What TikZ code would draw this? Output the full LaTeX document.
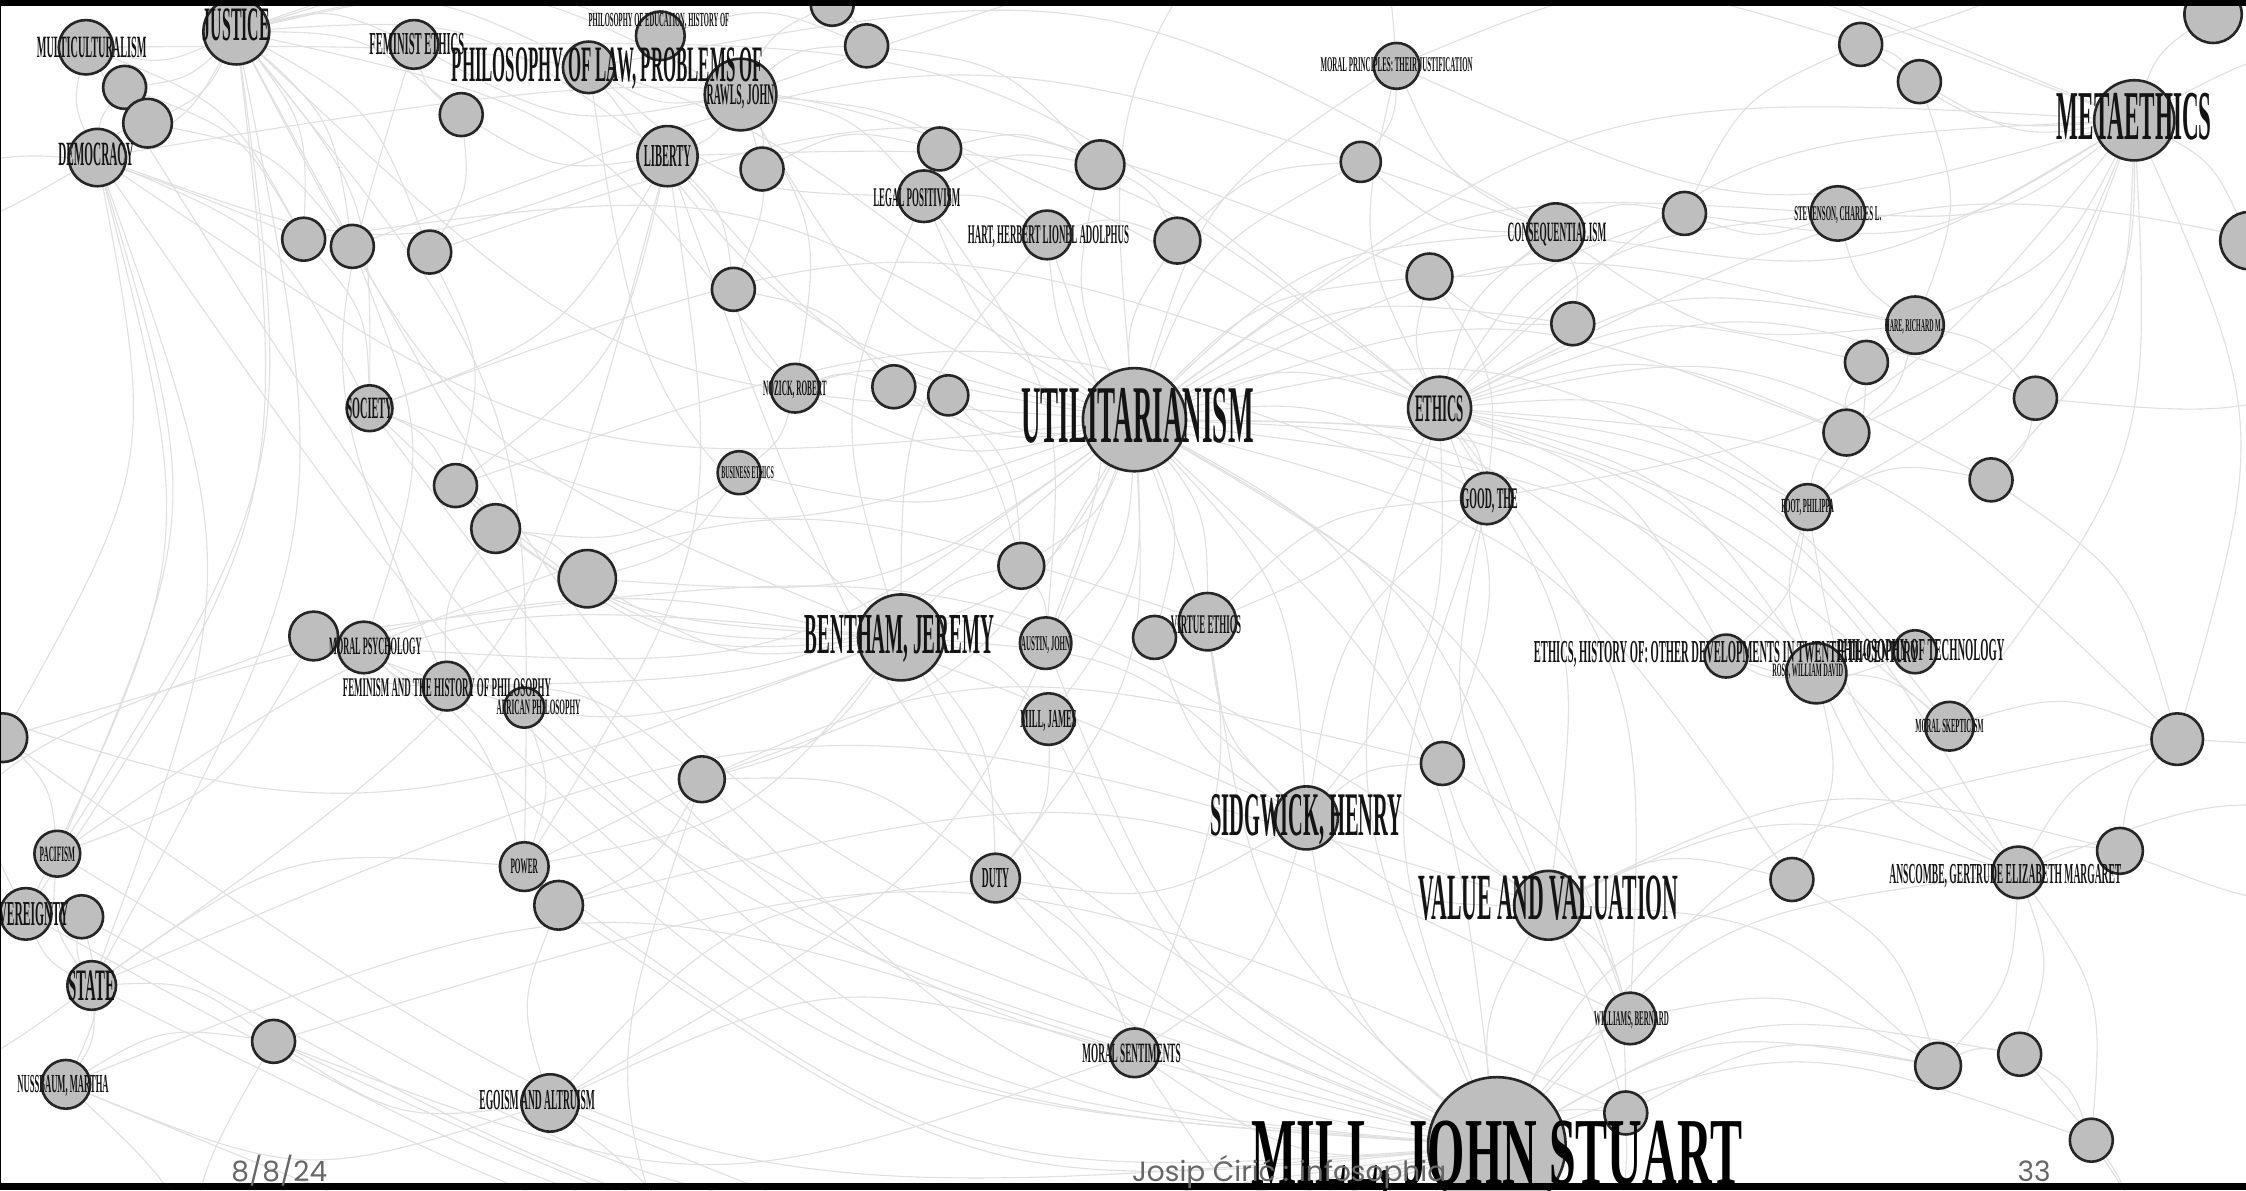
\documentclass[tikz,border=0pt]{standalone}
\usepackage{fontspec}
\usetikzlibrary{backgrounds,calc}
\newfontfamily\gfont[FakeStretch=0.33]{Liberation Serif}
\newfontfamily\gfontw[FakeStretch=0.5]{Liberation Serif}
\newfontfamily\footfont{Poppins}
\definecolor{netFill}{HTML}{BEBEBE}
\definecolor{netRim}{HTML}{262626}
\definecolor{netLink}{HTML}{E0E0E0}
\definecolor{netFoot}{HTML}{666666}

\begin{document}
\begin{tikzpicture}[x=1.4324pt,y=-1.4324pt,line cap=round,line join=round]
\useasboundingbox (0,0) rectangle (1568,831);
\tikzset{dot/.style={circle,draw=netRim,fill=netFill,line width=2.6pt,inner sep=0pt,minimum size={2.865pt*#1}},
  tag/.style={font=\gfont\bfseries\fontsize{#1}{#1}\selectfont,inner sep=0pt,text depth=0pt,text=black!92},
  tagw/.style={font=\gfontw\bfseries\fontsize{#1}{#1}\selectfont,inner sep=0pt,text depth=0pt,text=black},
  link/.style={draw=netLink,line width=1.1pt},
  foot/.style={font=\footfont\fontsize{28}{28}\selectfont,text=netFoot,anchor=base,inner sep=0pt}}
% topic circles
\node[dot=19] (mc) at (60,33) {};
\node[dot=15] (a1) at (87,61) {};
\node[dot=17] (a2) at (103,86) {};
\node[dot=20] (demo) at (68,110) {};
\node[dot=23] (just) at (165,22) {};
\node[dot=17] (femeth) at (289,31) {};
\node[dot=17] (phed) at (461,25) {};
\node[dot=18] (phlaw) at (411,47) {};
\node[dot=25] (rawls) at (517,66) {};
\node[dot=15] (a3) at (322,80) {};
\node[dot=21] (lib) at (466,109) {};
\node[dot=15] (a4) at (532,118) {};
\node[dot=15] (a5) at (581,3) {};
\node[dot=15] (a6) at (605,32) {};
\node[dot=15] (a7) at (656,104) {};
\node[dot=18] (legpos) at (645,137) {};
\node[dot=17] (a8) at (768,115) {};
\node[dot=17] (hart) at (731,164) {};
\node[dot=16] (a9) at (822,168) {};
\node[dot=15] (a10) at (512,202) {};
\node[dot=15] (a11) at (212,167) {};
\node[dot=15] (a12) at (246,172) {};
\node[dot=15] (a13) at (300,176) {};
\node[dot=16] (soc) at (258,285) {};
\node[dot=17] (noz) at (555,271) {};
\node[dot=15] (a14) at (624,270) {};
\node[dot=14] (a15) at (662,276) {};
\node[dot=36] (util) at (792,293) {};
\node[dot=15] (bus) at (516,330) {};
\node[dot=15] (a16) at (318,339) {};
\node[dot=17] (a17) at (346,369) {};
\node[dot=20] (a18) at (410,404) {};
\node[dot=17] (a19) at (219,444) {};
\node[dot=18] (mpsy) at (254,452) {};
\node[dot=17] (fem) at (312,479) {};
\node[dot=14] (afr) at (366,494) {};
\node[dot=17] (a20) at (2,515) {};
\node[dot=16] (a21) at (490,544) {};
\node[dot=16] (a22) at (713,395) {};
\node[dot=30] (bent) at (629,445) {};
\node[dot=18] (aus) at (730,449) {};
\node[dot=15] (a23) at (806,445) {};
\node[dot=20] (virt) at (843,434) {};
\node[dot=18] (mjames) at (732,502) {};
\node[dot=22] (eth) at (1005,285) {};
\node[dot=18] (good) at (1038,348) {};
\node[dot=15] (a24) at (1007,533) {};
\node[dot=22] (sidg) at (912,571) {};
\node[dot=24] (val) at (1081,632) {};
\node[dot=17] (duty) at (695,613) {};
\node[dot=16] (pac) at (40,596) {};
\node[dot=18] (sov) at (18,638) {};
\node[dot=15] (a25) at (57,640) {};
\node[dot=17] (state) at (64,688) {};
\node[dot=15] (a26) at (191,727) {};
\node[dot=17] (nuss) at (46,757) {};
\node[dot=17] (power) at (366,605) {};
\node[dot=17] (a27) at (390,632) {};
\node[dot=20] (ego) at (384,770) {};
\node[dot=17] (msent) at (792,735) {};
\node[dot=48] (mjs) at (1045,800) {};
\node[dot=18] (will) at (1138,711) {};
\node[dot=15] (a28) at (1135,777) {};
\node[dot=15] (a29) at (1251,614) {};
\node[dot=18] (ansc) at (1409,609) {};
\node[dot=16] (a30) at (1480,594) {};
\node[dot=16] (a31) at (1353,744) {};
\node[dot=15] (a32) at (1410,736) {};
\node[dot=15] (a33) at (1460,796) {};
\node[dot=17] (mskep) at (1361,507) {};
\node[dot=18] (a34) at (1520,516) {};
\node[dot=15] (ethhist) at (1205,458) {};
\node[dot=21] (ross) at (1268,470) {};
\node[dot=15] (phtech) at (1337,455) {};
\node[dot=16] (a35) at (1289,302) {};
\node[dot=16] (foot) at (1262,354) {};
\node[dot=15] (a36) at (1390,335) {};
\node[dot=20] (hare) at (1337,227) {};
\node[dot=15] (a37) at (1303,253) {};
\node[dot=15] (a38) at (1421,278) {};
\node[dot=15] (a39) at (1098,226) {};
\node[dot=16] (a40) at (998,193) {};
\node[dot=20] (cons) at (1086,162) {};
\node[dot=15] (a41) at (1176,149) {};
\node[dot=19] (stev) at (1283,149) {};
\node[dot=16] (mprin) at (975,46) {};
\node[dot=14] (a42) at (950,113) {};
\node[dot=15] (a43) at (1299,31) {};
\node[dot=15] (a44) at (1340,57) {};
\node[dot=28] (meta) at (1490,84) {};
\node[dot=20] (a45) at (1545,10) {};
\node[dot=20] (a46) at (1570,168) {};
% links leaving the frame
\coordinate (oN1) at (900,-120);
\coordinate (oN2) at (300,-120);
\coordinate (oN3) at (1500,-120);
\coordinate (oS1) at (500,960);
\coordinate (oS2) at (1100,960);
\coordinate (oS3) at (150,960);
\coordinate (oS4) at (1500,960);
\coordinate (oW1) at (-150,450);
\coordinate (oW2) at (-150,150);
\coordinate (oW3) at (-150,750);
\coordinate (oE1) at (1720,200);
\coordinate (oE2) at (1720,50);
\coordinate (oE3) at (1720,600);
\begin{scope}[on background layer]
\fill[white] (0,0) rectangle (1568,831);
\foreach \a/\b in {util/bent,util/mjs,util/sidg,util/eth,util/cons,util/mjames,util/aus,util/virt,util/good,util/val,util/duty,util/msent,util/noz,util/bus,util/a22,util/a23,util/meta,util/hart,util/legpos,util/just,util/lib,util/rawls,util/ego,util/a24,util/will,util/foot,util/hare,util/ross,util/stev,util/a14,util/a15,util/soc,util/a18,util/fem,util/mpsy,util/a21,util/ethhist,util/a29,util/ansc,util/mskep,util/a35,util/a40,util/a39,util/demo,util/phlaw,util/a9,util/a8,util/a42,util/mprin,
  mjs/bent,mjs/sidg,mjs/val,mjs/mjames,mjs/aus,mjs/lib,mjs/just,mjs/demo,mjs/soc,mjs/ego,mjs/msent,mjs/will,mjs/a28,mjs/state,mjs/power,mjs/duty,mjs/fem,mjs/mpsy,mjs/nuss,mjs/a26,mjs/a27,mjs/a21,mjs/virt,mjs/eth,mjs/good,mjs/ansc,mjs/a31,mjs/a32,mjs/a33,mjs/sov,mjs/pac,mjs/a20,mjs/mc,mjs/afr,mjs/a25,mjs/a29,mjs/a34,
  bent/aus,bent/mjames,bent/legpos,bent/hart,bent/phlaw,bent/just,bent/sidg,bent/duty,bent/a21,bent/a18,bent/a22,bent/power,bent/a17,bent/a16,bent/soc,bent/a19,
  eth/meta,eth/good,eth/cons,eth/virt,eth/mskep,eth/foot,eth/hare,eth/ansc,eth/ross,eth/a34,eth/stev,eth/a35,eth/a36,eth/a38,eth/a37,eth/will,eth/sidg,eth/val,eth/ethhist,eth/phtech,eth/a24,eth/a40,eth/a41,eth/mprin,
  meta/stev,meta/hare,meta/a43,meta/a44,meta/a45,meta/a46,meta/cons,meta/mprin,meta/foot,meta/mskep,meta/a34,meta/a36,meta/a38,meta/a41,meta/good,meta/a35,
  just/rawls,just/lib,just/demo,just/mc,just/phlaw,just/femeth,just/a1,just/a2,just/a11,just/a12,just/a13,just/soc,just/state,just/sov,just/noz,just/a3,just/phed,just/pac,just/power,
  rawls/lib,rawls/noz,rawls/phlaw,rawls/legpos,rawls/a4,rawls/a6,rawls/a5,rawls/a10,rawls/hart,rawls/femeth,rawls/phed,
  legpos/hart,legpos/phlaw,legpos/aus,legpos/a7,legpos/a8,hart/a9,hart/aus,
  lib/soc,lib/demo,lib/state,lib/power,lib/a10,lib/a16,lib/a3,
  val/good,val/will,val/a24,val/sidg,val/a29,val/ansc,val/a31,val/a30,val/a28,
  sidg/good,sidg/duty,sidg/msent,sidg/a24,sidg/virt,
  demo/mc,demo/a1,demo/a2,demo/state,demo/sov,demo/soc,demo/pac,demo/a20,
  state/sov,state/a25,state/pac,state/nuss,state/power,state/a26,
  fem/mpsy,fem/afr,fem/a19,fem/femeth,fem/a17,mpsy/a19,mpsy/virt,
  ego/a27,ego/a26,ego/msent,ego/duty,ego/nuss,
  ansc/a30,ansc/a32,ansc/a31,ansc/a33,ansc/foot,ansc/ross,ansc/a34,
  ross/phtech,ross/ethhist,ross/mskep,ross/foot,ross/a29,
  hare/a37,hare/a38,hare/stev,hare/cons,hare/a35,foot/a35,foot/a36,
  cons/a39,cons/a40,cons/a41,cons/mprin,cons/a42,mprin/a42,mprin/a43,
  noz/a14,noz/a15,noz/bus,noz/a10,bus/a18,bus/a17,
  a1/a11,a2/a12,a3/a13,a11/soc,a12/mpsy,a13/a16,a16/a17,a17/a18,a19/pac,a20/pac,a21/duty,a21/a27,a22/aus,a23/virt,a24/will,a25/nuss,
  a4/a7,a5/a6,a6/a8,a7/a8,a8/a9,a9/a42,a10/a14,a14/a22,a15/a22,a39/a40,a40/good,a41/a43,a43/a44,a44/hare,a37/foot,a38/a36,a36/a34,a35/a37,
  a30/a34,a31/a32,a32/a33,a29/a31,a28/a31,will/a31,msent/a26,duty/msent,mjames/duty,virt/good,sidg/a23,phtech/ethhist,mskep/a34,foot/ethhist,stev/a41,
  mc/a11,sov/a20,nuss/a26,afr/power,fem/a21,mpsy/power,soc/a16,a3/femeth,phed/a6,
  demo/eth,just/meta,state/val,a11/util,a12/cons,soc/eth,pac/bent,nuss/msent,a20/sidg,a19/val,mc/util,lib/eth,rawls/meta,phlaw/cons,femeth/eth,a13/a40,a16/good,a27/will,a26/a28,power/a24,
  mjs/oS1,mjs/oS2,util/oN1,bent/oW1,eth/oE1,meta/oE2,ansc/oE3,a34/oE3,just/oN2,demo/oW2,state/oW3,a20/oW1,a46/oE1,a45/oN3,val/oS2,ego/oS1,nuss/oS3,a33/oS4,a32/oS4,oN1/mprin,oW2/a11,oE3/a30,oS3/a26,oN3/a43,oS1/a21,oS2/msent,oW3/a19,oE1/a38}
  \draw[link] (\a.center) .. controls ($(\a.center)!0.532!20:(\b.center)$) .. (\b.center);
\end{scope}
% labels on top of the circles
\node[tag=31] (mc-t) at (64,33) {MULTICULTURALISM};
\node[tag=34] (demo-t) at (67,108) {DEMOCRACY};
\node[tag=48] (just-t) at (165,17) {JUSTICE};
\node[tag=32] (femeth-t) at (291,31) {FEMINIST ETHICS};
\node[tag=20] (phed-t) at (460,14) {PHILOSOPHY OF EDUCATION, HISTORY OF};
\node[tag=51] (phlaw-t) at (424,45) {PHILOSOPHY OF LAW, PROBLEMS OF};
\node[tag=30] (rawls-t) at (517,66) {RAWLS, JOHN};
\node[tag=32] (lib-t) at (466,109) {LIBERTY};
\node[tag=27] (legpos-t) at (640,138) {LEGAL POSITIVISM};
\node[tag=27] (hart-t) at (732,164) {HART, HERBERT LIONEL ADOLPHUS};
\node[tag=31] (soc-t) at (258,285) {SOCIETY};
\node[tag=22] (noz-t) at (555,271) {NOZICK, ROBERT};
\node[tag=82] (util-t) at (794,290) {UTILITARIANISM};
\node[tag=18] (bus-t) at (522,330) {BUSINESS ETHICS};
\node[tag=25] (mpsy-t) at (262,451) {MORAL PSYCHOLOGY};
\node[tag=27] (fem-t) at (312,480) {FEMINISM AND THE HISTORY OF PHILOSOPHY};
\node[tag=22] (afr-t) at (376,494) {AFRICAN PHILOSOPHY};
\node[tag=58] (bent-t) at (628,443) {BENTHAM, JEREMY};
\node[tag=21] (aus-t) at (730,449) {AUSTIN, JOHN};
\node[tag=27] (virt-t) at (842,436) {VIRTUE ETHICS};
\node[tag=26] (mjames-t) at (732,502) {MILL, JAMES};
\node[tag=39] (eth-t) at (1005,285) {ETHICS};
\node[tag=30] (good-t) at (1040,348) {GOOD, THE};
\node[tag=62] (sidg-t) at (912,569) {SIDGWICK, HENRY};
\node[tag=66] (val-t) at (1081,627) {VALUE AND VALUATION};
\node[tag=29] (duty-t) at (695,613) {DUTY};
\node[tag=22] (pac-t) at (40,596) {PACIFISM};
\node[tag=35] (sov-t) at (18,638) {SOVEREIGNTY};
\node[tag=45] (state-t) at (64,688) {STATE};
\node[tag=26] (nuss-t) at (44,757) {NUSSBAUM, MARTHA};
\node[tag=22] (power-t) at (366,605) {POWER};
\node[tag=29] (ego-t) at (375,768) {EGOISM AND ALTRUISM};
\node[tag=28] (msent-t) at (790,735) {MORAL SENTIMENTS};
\node[tagw=96] (mjs-t) at (1045,805) {MILL, JOHN STUART};
\node[tag=21] (will-t) at (1139,711) {WILLIAMS, BERNARD};
\node[tag=29] (ansc-t) at (1400,610) {ANSCOMBE, GERTRUDE ELIZABETH MARGARET};
\node[tag=20] (mskep-t) at (1361,507) {MORAL SKEPTICISM};
\node[tag=32] (ethhist-t) at (1205,455) {ETHICS, HISTORY OF: OTHER DEVELOPMENTS IN TWENTIETH-CENTURY};
\node[tag=32] (phtech-t) at (1341,454) {PHILOSOPHY OF TECHNOLOGY};
\node[tag=19] (ross-t) at (1262,468) {ROSS, WILLIAM DAVID};
\node[tag=20] (foot-t) at (1262,353) {FOOT, PHILIPPA};
\node[tag=18] (hare-t) at (1336,227) {HARE, RICHARD M.};
\node[tag=28] (cons-t) at (1087,162) {CONSEQUENTIALISM};
\node[tag=21] (stev-t) at (1283,149) {STEVENSON, CHARLES L.};
\node[tag=21] (mprin-t) at (975,45) {MORAL PRINCIPLES: THEIR JUSTIFICATION};
\node[tag=70] (meta-t) at (1490,81) {METAETHICS};
% slide frame and footer
\fill[black] (0,0) rectangle (1568,4);
\fill[black] (0,826) rectangle (1568,831);
\fill[black] (0,0) rectangle (0.8,831);
\node[foot] (date) at (195,825) {8/8/24};
\node[foot] (author) at (900,825) {Josip Ćirić : infosophia};
\node[foot] (page) at (1420,825) {33};
\end{tikzpicture}
\end{document}
